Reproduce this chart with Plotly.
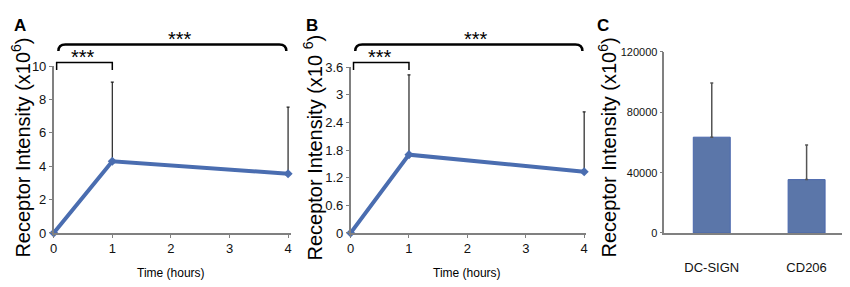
import plotly.graph_objects as go

# Data
time_hours = [0, 1, 4]
a_values = [0.0, 4.3, 3.55]
a_err_up = [0.0, 4.75, 4.0]
b_values = [0.0, 1.7, 1.33]
b_err_up = [0.0, 1.73, 1.30]
c_categories = ["DC-SIGN", "CD206"]
c_values = [63500, 35400]
c_err_up = [36000, 23000]

a_ticks = [0, 2, 4, 6, 8, 10]
b_ticks = [0, 0.6, 1.2, 1.8, 2.4, 3.0, 3.6]
b_ticklabels = ["0", "0.6", "1.2", "1.8", "2.4", "3", "3.6"]
c_ticks = [0, 40000, 80000, 120000]
c_ticklabels = ["0", "40000", "80000", "120000"]

W, H = 850, 287
LINE = "#4A6DB0"
BAR = "#5B76A9"
SANS = "Liberation Sans, Arial, sans-serif"

def px(x):
    return x / W

def py(y):
    return (H - y) / H

fig = go.Figure()

fig.add_trace(go.Scatter(
    x=time_hours, y=a_values, mode="lines+markers", xaxis="x", yaxis="y",
    line=dict(color=LINE, width=4), marker=dict(symbol="diamond", size=7, color=LINE),
    error_y=dict(type="data", symmetric=False, array=a_err_up, arrayminus=[0, 0, 0],
                 color="#222222", thickness=1.2, width=1.5),
    cliponaxis=False, showlegend=False))
fig.add_trace(go.Scatter(
    x=time_hours, y=b_values, mode="lines+markers", xaxis="x2", yaxis="y2",
    line=dict(color=LINE, width=4), marker=dict(symbol="diamond", size=7, color=LINE),
    error_y=dict(type="data", symmetric=False, array=b_err_up, arrayminus=[0, 0, 0],
                 color="#222222", thickness=1.2, width=1.5),
    cliponaxis=False, showlegend=False))
fig.add_trace(go.Bar(
    x=c_categories, y=c_values, xaxis="x3", yaxis="y3", width=0.39,
    marker=dict(color=BAR, line=dict(color="#4A68AD", width=1)),
    error_y=dict(type="data", symmetric=False, array=c_err_up, arrayminus=[0, 0],
                 color="#555555", thickness=1.5, width=1.5),
    showlegend=False))

def ax(size=13, **kw):
    d = dict(showline=True, linecolor="#808080", linewidth=1.5,
             tickcolor="#808080", ticklen=3, showgrid=False, zeroline=False,
             tickfont=dict(family=SANS, size=size, color="#111"))
    d.update(kw)
    return d

fig.update_layout(
    width=W, height=H, margin=dict(l=0, r=0, t=0, b=0),
    plot_bgcolor="white", paper_bgcolor="white",
    xaxis=ax(domain=[px(42), px(281)], range=[0, 4.05], tickvals=[0, 1, 2, 3, 4],
             anchor="y", ticks="outside"),
    yaxis=ax(domain=[py(230), py(54)], range=[0, 10], tickvals=a_ticks,
             anchor="x", ticks="outside"),
    xaxis2=ax(domain=[px(341), px(578)], range=[0, 4.03], tickvals=[0, 1, 2, 3, 4],
              anchor="y2", ticks="outside"),
    yaxis2=ax(domain=[py(230), py(55)], range=[0, 3.6], tickvals=b_ticks,
              ticktext=b_ticklabels, anchor="x2", ticks="outside"),
    xaxis3=ax(size=13, domain=[px(657), px(848)], anchor="y3", ticks="", ticklabelstandoff=22),
    yaxis3=ax(size=11, domain=[py(230), py(39)], range=[0, 120000], tickvals=c_ticks,
              ticktext=c_ticklabels, anchor="x3", ticks="outside"),
)

annotations = []
# panel letters
for letter, x in [("A", 8), ("B", 302), ("C", 595)]:
    annotations.append(dict(text="<b>%s</b>" % letter, x=px(x), y=py(11), xref="paper", yref="paper",
                            showarrow=False, xanchor="center", yanchor="middle",
                            font=dict(family=SANS, size=17, color="#000")))
# y titles
for txt, x in [("Receptor Intensity (x10<sup>6</sup>)", 9),
               ("Receptor Intensity (x10 <sup>6</sup>)", 303),
               ("Receptor Intensity (x10<sup>6</sup>)", 600)]:
    annotations.append(dict(text=txt, x=px(x), y=py(140), xref="paper", yref="paper",
                            showarrow=False, textangle=-90, xanchor="center", yanchor="middle",
                            font=dict(family=SANS, size=20, color="#000")))
# x titles
for xr in ["x", "x2"]:
    annotations.append(dict(text="Time (hours)", x=2, y=py(272), xref=xr, yref="paper",
                            showarrow=False, xanchor="center", yanchor="middle",
                            font=dict(family=SANS, size=12, color="#000")))
# stars
for xr in ["x", "x2"]:
    annotations.append(dict(text="***", x=0.5, y=py(44), xref=xr, yref="paper", showarrow=False,
                            xanchor="center", yanchor="middle", font=dict(family=SANS, size=20, color="#000")))
    annotations.append(dict(text="***", x=2.15, y=py(25), xref=xr, yref="paper", showarrow=False,
                            xanchor="center", yanchor="middle", font=dict(family=SANS, size=20, color="#000")))
fig.update_layout(annotations=annotations)

shapes = []
for xr in ["x", "x2"]:
    # small bracket
    shapes.append(dict(type="path", xref=xr, yref="paper",
                       path="M 0.05,%f L 0.05,%f L 1,%f L 1,%f" % (py(58), py(50), py(50), py(58)),
                       line=dict(color="#000", width=1.5)))
    # large bracket
    shapes.append(dict(type="path", xref=xr, yref="paper",
                       path="M 0.08,%f Q 0.08,%f 0.2,%f L 3.85,%f Q 3.97,%f 3.97,%f" % (
                           py(38), py(31), py(31), py(31), py(31), py(38)),
                       line=dict(color="#000", width=2.5)))
fig.update_layout(shapes=shapes)

fig.write_html("out.html")
